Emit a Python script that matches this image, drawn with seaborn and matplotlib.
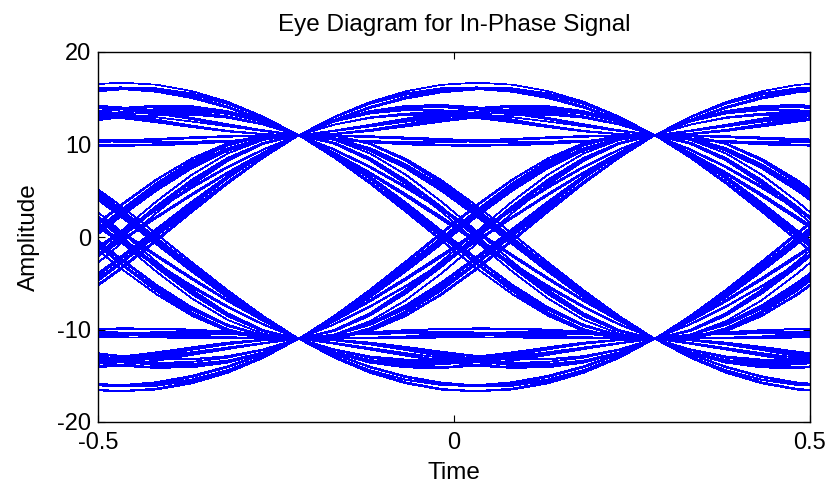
import numpy as np
import pandas as pd
import matplotlib
matplotlib.use("Agg")
import matplotlib.pyplot as plt
import seaborn as sns

# transmitted in-phase bits, as run lengths of alternating +1 / -1 symbols
runs = [1, 2, 1, 3, 1, 1, 4, 2, 1, 1, 2, 5, 1, 3, 2, 1, 1, 1, 2, 4,
        1, 2, 3, 1, 1, 2, 1, 6, 2, 1, 1, 3, 1, 2, 4, 1, 1, 2, 1, 3,
        2, 1, 5, 1, 1, 2, 3, 1, 4, 2, 1, 1, 1, 3, 2, 1, 2, 4, 1, 1,
        3, 1, 2, 1, 5, 2, 1, 1, 2, 3, 1, 1, 4, 2, 1, 3, 1, 2, 1, 1,
        2, 6, 1, 1, 3, 2, 1, 4, 1, 2]
level = 11.0          # amplitude at the sampling instants
rolloff = 0.47        # raised cosine roll-off
sample_time = -0.218  # where the eye crosses in the plot window
sps = 10              # samples per symbol

symbols = []
for i, r in enumerate(runs):
    symbols += [level if i % 2 == 0 else -level] * r
symbols = np.array(symbols)


def raised_cosine(t, beta):
    t = np.asarray(t, dtype=float)
    den = 1 - (2 * beta * t) ** 2
    sing = np.abs(den) < 1e-9
    out = np.sinc(t) * np.cos(np.pi * beta * t) / np.where(sing, 1, den)
    out[sing] = np.pi / 4 * np.sinc(1 / (2 * beta))
    return out


# time grid of one trace (two symbols per unit of plot time)
j = np.arange(-6, 16)
tau = sample_time + j / (2 * sps)

rows = []
nn = np.arange(len(symbols))
for k in range(len(symbols) - 10):
    centre = 5 + k
    t_sym = centre + 2 * (tau - sample_time)
    wave = (symbols[None, :] * raised_cosine(t_sym[:, None] - nn[None, :], rolloff)).sum(axis=1)
    for x, y in zip(tau, wave):
        rows.append((k, x, y))
df = pd.DataFrame(rows, columns=["trace", "Time", "Amplitude"])

sns.set_style("white")
plt.rcParams["font.family"] = ["Liberation Sans", "DejaVu Sans"]
plt.rcParams["axes.unicode_minus"] = False
plt.rcParams["text.color"] = "black"
plt.rcParams["axes.labelcolor"] = "black"
plt.rcParams["xtick.color"] = "black"
plt.rcParams["ytick.color"] = "black"

fig = plt.figure(figsize=(8.32, 4.91), dpi=100)
ax = fig.add_axes([98 / 832, 1 - 422 / 491, 712 / 832, 370 / 491])
sns.lineplot(data=df, x="Time", y="Amplitude", units="trace", estimator=None,
             color="#0000ff", linewidth=0.5, antialiased=False, ax=ax, legend=False)

ax.set_xlim(-0.5, 0.5)
ax.set_ylim(-20, 20)
ax.set_xticks([-0.5, 0, 0.5])
ax.set_xticklabels(["-0.5", "0", "0.5"])
ax.set_yticks([-20, -10, 0, 10, 20])
ax.tick_params(direction="in", length=5, width=0.8, labelsize=17,
               top=True, right=True, bottom=True, left=True)
ax.tick_params(axis="x", pad=7)
ax.tick_params(axis="y", pad=5)
for s in ax.spines.values():
    s.set_visible(True)
    s.set_color("black")
    s.set_linewidth(1.0)
ax.set_title("Eye Diagram for In-Phase Signal", fontsize=17.5, pad=15, color="black")
ax.set_xlabel("Time", fontsize=17.5, labelpad=6)
ax.set_ylabel("Amplitude", fontsize=17.5, labelpad=12)

fig.savefig("out.png", dpi=100)
